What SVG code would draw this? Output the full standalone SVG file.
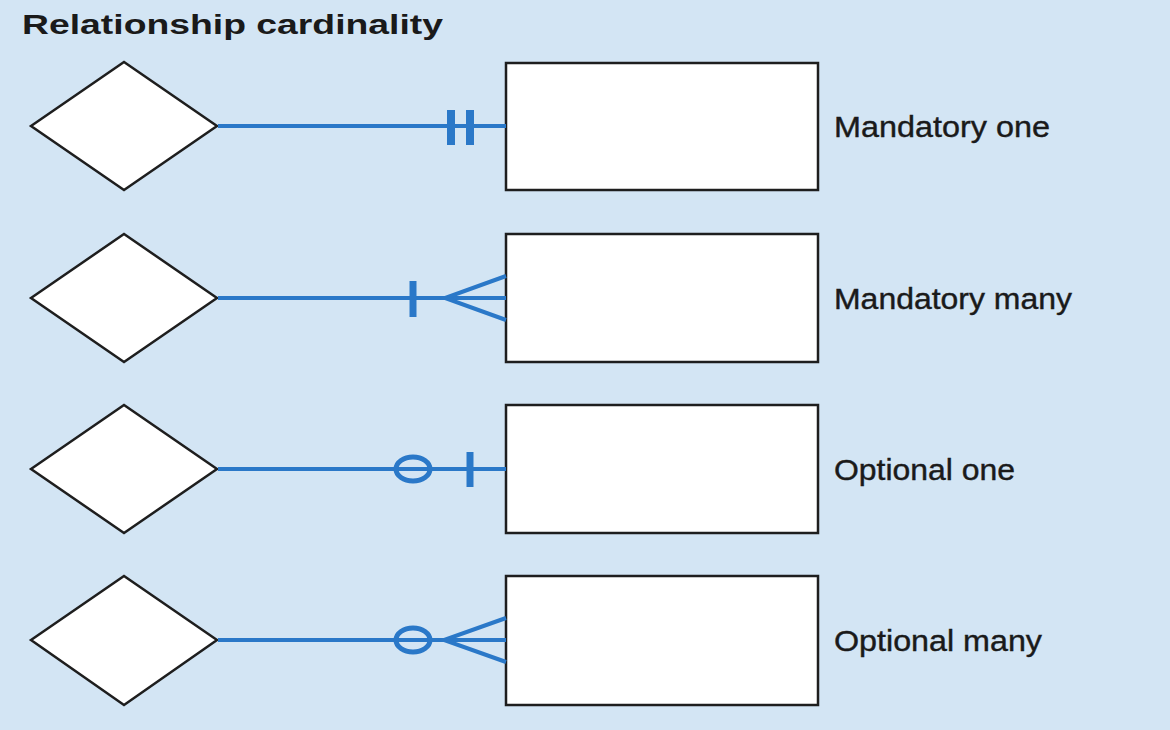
<svg xmlns="http://www.w3.org/2000/svg" width="1170" height="730" viewBox="0 0 1170 730">
<style>
.bg{fill:#d3e5f4}
.dia{fill:#ffffff;stroke:#1e1e1e;stroke-width:2.5;stroke-linejoin:miter}
.ent{fill:#ffffff;stroke:#1e1e1e;stroke-width:2.5}
.conn{stroke:#2a78c8;stroke-width:4;fill:none;stroke-linecap:butt}
.tick2{stroke:#2a78c8;stroke-width:8;fill:none}
.tick1{stroke:#2a78c8;stroke-width:7;fill:none}
.circ{stroke:#2a78c8;stroke-width:5;fill:none}
.lbl{font-family:"Liberation Sans",Arial,sans-serif;font-size:29px;fill:#1a1a1a;stroke:#1a1a1a;stroke-width:0.4}
.title{font-family:"Liberation Sans",Arial,sans-serif;font-size:28px;font-weight:bold;fill:#1a1a1a}
</style>
<rect class="bg" x="0" y="0" width="1170" height="730"/>
<text class="title" x="22" y="34" textLength="421" lengthAdjust="spacingAndGlyphs">Relationship cardinality</text>

<g id="rel1"><polygon class="dia" points="31,126 124,62 217,126 124,190"/></g>
<g id="ent1"><rect class="ent" x="506" y="63" width="312" height="127"/></g>
<g id="rel2"><polygon class="dia" points="31,298 124,234 217,298 124,362"/></g>
<g id="ent2"><rect class="ent" x="506" y="234" width="312" height="128"/></g>
<g id="rel3"><polygon class="dia" points="31,469 124,405 217,469 124,533"/></g>
<g id="ent3"><rect class="ent" x="506" y="405" width="312" height="128"/></g>
<g id="rel4"><polygon class="dia" points="31,640 124,576 217,640 124,705"/></g>
<g id="ent4"><rect class="ent" x="506" y="576" width="312" height="129"/></g>

<g id="connectors">
  <!-- Mandatory one -->
  <line class="conn" x1="218" y1="126" x2="506" y2="126"/>
  <line class="tick2" x1="451" y1="110" x2="451" y2="145"/>
  <line class="tick2" x1="470" y1="110" x2="470" y2="145"/>
  <!-- Mandatory many -->
  <line class="conn" x1="218" y1="298" x2="506" y2="298"/>
  <line class="tick1" x1="413" y1="281" x2="413" y2="317"/>
  <polyline class="conn" points="506,276 445,298 506,320"/>
  <!-- Optional one -->
  <line class="conn" x1="218" y1="469" x2="506" y2="469"/>
  <ellipse class="circ" cx="413" cy="469" rx="17" ry="12"/>
  <line class="tick1" x1="470" y1="452" x2="470" y2="487"/>
  <!-- Optional many -->
  <line class="conn" x1="218" y1="640" x2="506" y2="640"/>
  <ellipse class="circ" cx="413" cy="640" rx="17" ry="12"/>
  <polyline class="conn" points="506,618 444,640 506,662"/>
</g>

<text class="lbl" x="834" y="137" textLength="216" lengthAdjust="spacingAndGlyphs">Mandatory one</text>
<text class="lbl" x="834" y="309" textLength="238" lengthAdjust="spacingAndGlyphs">Mandatory many</text>
<text class="lbl" x="834" y="480" textLength="181" lengthAdjust="spacingAndGlyphs">Optional one</text>
<text class="lbl" x="834" y="651" textLength="208" lengthAdjust="spacingAndGlyphs">Optional many</text>
</svg>
